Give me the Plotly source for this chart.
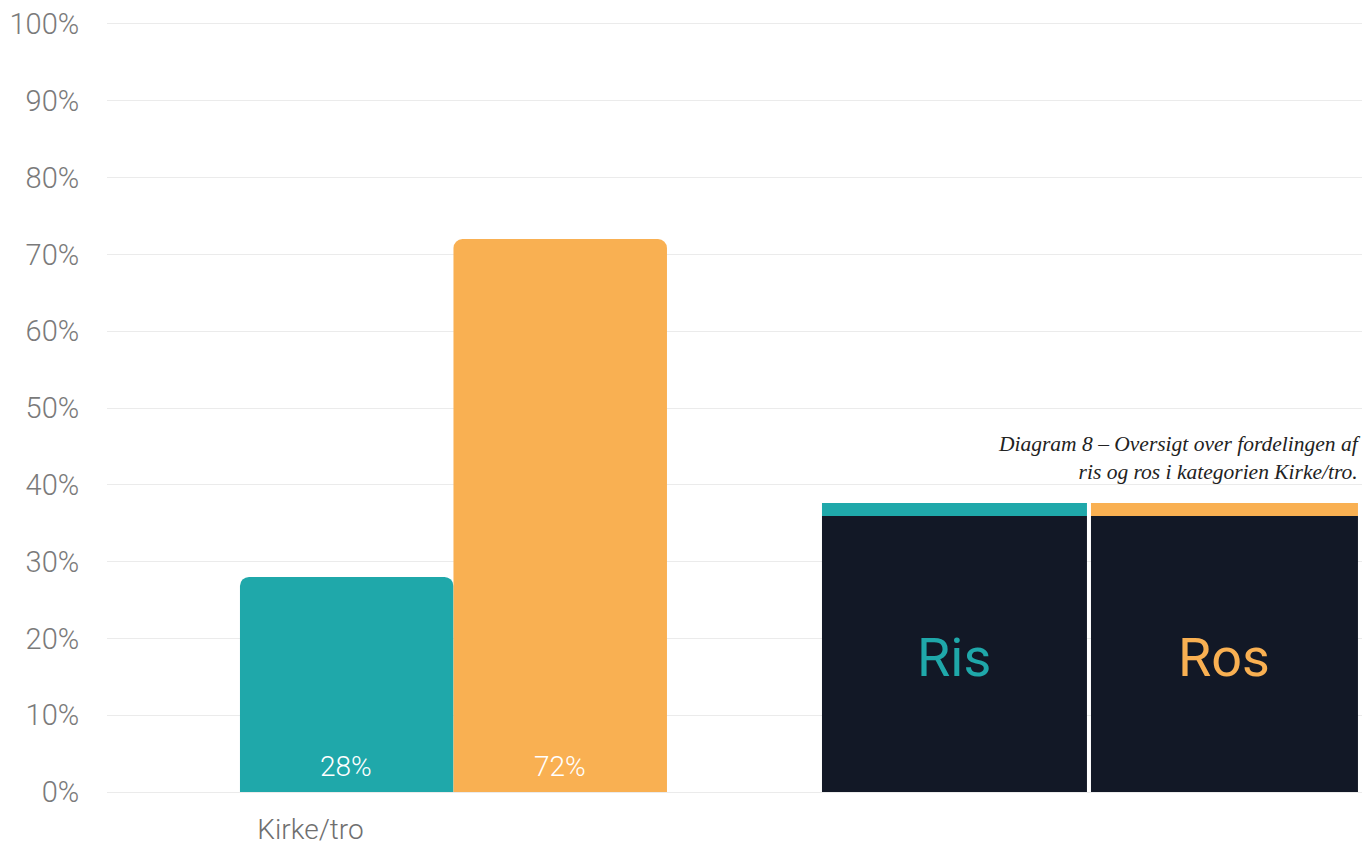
import plotly.graph_objects as go

categories = ["Kirke/tro"]
ris_values = [28]
ros_values = [72]
series_names = ["Ris", "Ros"]
y_ticks = [0, 10, 20, 30, 40, 50, 60, 70, 80, 90, 100]
y_tick_labels = [f"{v}%" for v in y_ticks]
caption = "Diagram 8 – Oversigt over fordelingen af<br>ris og ros i kategorien Kirke/tro."

TEAL = "#1fa8aa"
ORANGE = "#f9b052"
DARK = "#121826"
FONT = "Roboto"

fig = go.Figure()
series = [(series_names[0], ris_values, TEAL, -107), (series_names[1], ros_values, ORANGE, 107)]
for name, vals, col, shift in series:
    fig.add_trace(go.Bar(
        x=categories, y=vals, name=name,
        marker=dict(color=col, line=dict(width=0), cornerradius=9),
        showlegend=False, hoverinfo="skip",
    ))
    for c, v in zip(categories, vals):
        fig.add_annotation(x=c, y=0, text=f"{v}%", showarrow=False, xshift=shift, yshift=7,
                           xanchor="center", yanchor="bottom",
                           font=dict(color="white", size=28, family=FONT, weight=300))

fig.update_layout(
    width=1362, height=838,
    margin=dict(l=99, r=6, t=16, b=54, autoexpand=False),
    paper_bgcolor="white", plot_bgcolor="white",
    barmode="group", bargap=0.5, bargroupgap=0,
    font=dict(family=FONT, color="#7a7a7a"),
    xaxis=dict(
        range=[-0.4057, 1.0662], showgrid=False, zeroline=False,
        showline=True, mirror=True, linecolor="#ebebeb", linewidth=1,
        automargin=False, ticklabeloverflow="allow",
        ticks="", tickfont=dict(size=28, color="#6f6f6f", family=FONT, weight=300),
        ticklabelshift=-143, ticklabelstandoff=12,
    ),
    yaxis=dict(
        range=[0, 100], tickvals=y_ticks, ticktext=y_tick_labels,
        automargin=False, ticklabeloverflow="allow",
        showgrid=True, gridcolor="#ebebeb", gridwidth=1,
        zeroline=True, zerolinecolor="#dcdcdc", zerolinewidth=1,
        showline=False, ticks="outside", ticklen=21, tickcolor="rgba(0,0,0,0)",
        tickfont=dict(size=29, color="#7a7a7a", family=FONT, weight=300),
    ),
)

# legend-like panels
panels = [(0.5688, 0.7796, TEAL, series_names[0]), (0.7828, 0.9952, ORANGE, series_names[1])]
for x0, x1, col, label in panels:
    fig.add_shape(type="rect", xref="paper", yref="paper", x0=x0, x1=x1, y0=0, y1=0.3594,
                  fillcolor=DARK, line=dict(width=0), layer="above")
    fig.add_shape(type="rect", xref="paper", yref="paper", x0=x0, x1=x1, y0=0.3594, y1=0.3763,
                  fillcolor=col, line=dict(width=0), layer="above")
    fig.add_annotation(xref="paper", yref="paper", x=(x0 + x1) / 2, y=0.175, text=label,
                       showarrow=False, font=dict(size=54, color=col, family=FONT),
                       xanchor="center", yanchor="middle")

fig.add_annotation(xref="paper", yref="paper", x=0.999, y=0.472, text=caption,
                   showarrow=False, align="right", xanchor="right", yanchor="top",
                   font=dict(size=21.5, color="#222222", family="Liberation Serif", style="italic"))

fig.write_html("out.html")
